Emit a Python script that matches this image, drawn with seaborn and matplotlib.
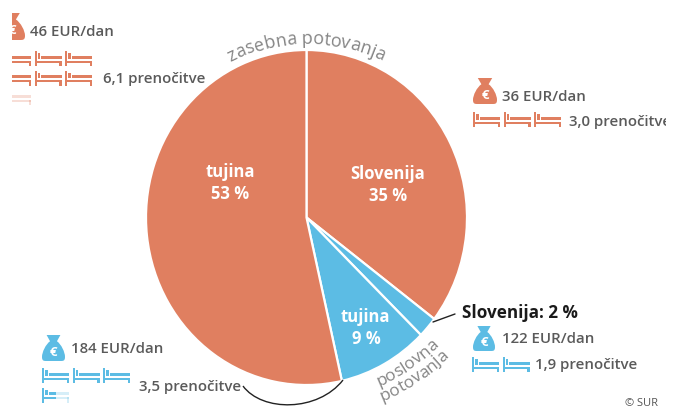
"""Pie chart of travel shares with daily spend and nights for each group."""

import math

import matplotlib.pyplot as plt
import seaborn as sns
from matplotlib.patches import PathPatch, Rectangle
from matplotlib.path import Path

shares = [35, 2, 9, 53]
slice_groups = ["zasebna", "poslovna", "poslovna", "zasebna"]
costs = ["46 EUR/dan", "36 EUR/dan", "184 EUR/dan", "122 EUR/dan"]
nights = [6.1, 3.0, 3.5, 1.9]
night_labels = ["6,1 prenočitve", "3,0 prenočitve", "3,5 prenočitve", "1,9 prenočitve"]

W, H = 680, 407
ORANGE = "#E07F60"
BLUE = "#5CBCE4"
TEXT = "#5a5a5a"
ARC_TEXT = "#858585"
CENTER = (306.5, 217)

sns.set_theme(style="white")
plt.rcParams["font.family"] = ["Open Sans", "DejaVu Sans"]

fig = plt.figure(figsize=(W / 100, H / 100), dpi=100)


def px_axes(x0, y0, x1, y1):
    """Axes covering a pixel box, with top-left origin."""
    return fig.add_axes([x0 / W, 1 - y1 / H, (x1 - x0) / W, (y1 - y0) / H])


pie_ax = px_axes(146, 50, 467, 385)
palette = {"zasebna": ORANGE, "poslovna": BLUE}
pie_ax.pie(
    shares,
    colors=[palette[g] for g in slice_groups],
    startangle=90,
    counterclock=False,
    radius=1,
    wedgeprops={"edgecolor": "white", "linewidth": 1.6},
)
pie_ax.set_xlim(-1, 1)
pie_ax.set_ylim(-1, 1)
pie_ax.set_aspect("auto")

# overlay in pixel coordinates, clipped like the cropped source image
ax = px_axes(12, 0, 666, H)
ax.set_xlim(12, 666)
ax.set_ylim(H, 0)
ax.axis("off")
ax.patch.set_alpha(0)


def label(x, y, s, size=10.8, color=TEXT, weight="semibold", ha="left"):
    return ax.text(x, y, s, fontsize=size, color=color, fontweight=weight,
                   ha=ha, va="center", clip_on=True)


def bed(x, y, color, fill=1.0, w=27, h=15):
    """One bed icon, solid up to fill of its width and faded after that."""
    parts = [
        (0, 0, 2.2, h),
        (0, h * 0.64, w, 2.0),
        (w - 2.2, h * 0.64, 2.2, h * 0.36),
        (6.5, h * 0.3, w - 6.5, h * 0.2),
        (3.2, h * 0.14, 2.6, h * 0.36),
    ]
    split = fill * w
    for px, py, pw, ph in parts:
        solid = max(0, min(pw, split - px))
        if solid > 0:
            ax.add_patch(Rectangle((x + px, y + py), solid, ph, fc=color, ec="none"))
        if solid < pw:
            ax.add_patch(Rectangle((x + px + solid, y + py), pw - solid, ph,
                                   fc=color, ec="none", alpha=0.25))


def beds(x, y, count, color, row_size=3, dx=30.5, dy=19.5):
    """Draw count beds in rows, a fractional rest is drawn faded."""
    for i in range(math.ceil(count)):
        rest = count - i
        bed(x + (i % row_size) * dx, y + (i // row_size) * dy, color, 1.0 if rest >= 0.85 else rest)


def bag(cx, top, w, h, color):
    x = lambda u: cx + u * w / 2
    y = lambda v: top + v * h
    verts = [
        (x(-0.6), y(0)), (x(0.6), y(0)), (x(0.3), y(0.24)),
        (x(0.68), y(0.36)), (x(1.0), y(0.66)), (x(1.0), y(0.84)),
        (x(1.0), y(1.0)), (x(0.85), y(1.0)), (x(0.6), y(1.0)),
        (x(-0.6), y(1.0)),
        (x(-0.85), y(1.0)), (x(-1.0), y(1.0)), (x(-1.0), y(0.84)),
        (x(-1.0), y(0.66)), (x(-0.68), y(0.36)), (x(-0.3), y(0.24)),
        (x(-0.6), y(0)),
    ]
    codes = [Path.MOVETO, Path.LINETO, Path.LINETO,
             Path.CURVE4, Path.CURVE4, Path.CURVE4,
             Path.CURVE4, Path.CURVE4, Path.CURVE4,
             Path.LINETO,
             Path.CURVE4, Path.CURVE4, Path.CURVE4,
             Path.CURVE4, Path.CURVE4, Path.CURVE4,
             Path.CLOSEPOLY]
    ax.add_patch(PathPatch(Path(verts, codes), fc=color, ec="none"))
    ax.text(cx, y(0.66), "€", fontsize=9.5, color="white", fontweight="bold",
            ha="center", va="center", clip_on=True)


def arc_text(s, radius, mid_deg, size, bottom=False):
    """Place letters one by one along a circle round the pie."""
    renderer = fig.canvas.get_renderer()
    dot = ax.text(0, 0, ".", fontsize=size)
    dot_w = dot.get_window_extent(renderer).width
    dot.remove()
    ends = []
    for i in range(len(s)):
        # advance from running string width so kerning and spaces count
        probe = ax.text(0, 0, s[: i + 1] + ".", fontsize=size)
        ends.append(probe.get_window_extent(renderer).width - dot_w)
        probe.remove()
    total = ends[-1]
    starts = [0] + ends[:-1]
    for ch, start in zip(s, starts):
        # mid_deg is measured from the top, or from straight down when bottom
        theta = math.radians(mid_deg) + (start - total / 2) / radius
        px = CENTER[0] + radius * math.sin(theta)
        if bottom:
            py = CENTER[1] + radius * math.cos(theta)
            rot = math.degrees(theta)
        else:
            py = CENTER[1] - radius * math.cos(theta)
            rot = -math.degrees(theta)
        ax.text(px, py, ch, fontsize=size, color=ARC_TEXT, rotation=rot,
                rotation_mode="anchor", ha="left", va="baseline", clip_on=True)


# labels inside the slices
label(230, 172, "tujina", 12, "white", "bold", "center")
label(230, 194, "53 %", 12, "white", "bold", "center")
label(388, 174, "Slovenija", 12, "white", "bold", "center")
label(388, 196, "35 %", 12, "white", "bold", "center")
label(365, 317, "tujina", 12, "white", "bold", "center")
label(366, 339, "9 %", 12, "white", "bold", "center")

arc_text("zasebna potovanja", 173, 0, 13)
arc_text("poslovna", 184, 34.5, 12.5, bottom=True)
arc_text("potovanja", 199, 34, 12.5, bottom=True)

# private travel abroad, top left
bag(12, 13, 26, 27, ORANGE)
label(30, 32, costs[0])
beds(4, 51, nights[0], ORANGE)
label(103, 79, night_labels[0])

# private travel in Slovenia
bag(485, 78, 24, 26, ORANGE)
label(502, 97, costs[1])
beds(473, 112, nights[1], ORANGE)
label(569, 122, night_labels[1])

# business travel abroad
bag(53.5, 335, 23, 26, BLUE)
label(71, 349, costs[2])
beds(42, 368, nights[2], BLUE)
label(139, 387, night_labels[2])

# business travel in Slovenia
bag(484, 326, 22, 25, BLUE)
label(502, 339, costs[3])
beds(472, 357, nights[3], BLUE)
label(535, 365, night_labels[3])

label(462, 313, "Slovenija: 2 %", 12.3, "#1a1a1a", "bold")
label(625, 403, "© SUR", 8, "#555555", "normal")

# leader lines
ax.plot([433, 444, 455], [322, 318, 314], color="#222222", lw=1, solid_capstyle="round")
curve = Path(
    [(243, 386), (262, 412), (318, 412), (343, 380)],
    [Path.MOVETO, Path.CURVE4, Path.CURVE4, Path.CURVE4],
)
ax.add_patch(PathPatch(curve, fc="none", ec="#222222", lw=1))

fig.savefig("out.png", dpi=100, facecolor="white")
